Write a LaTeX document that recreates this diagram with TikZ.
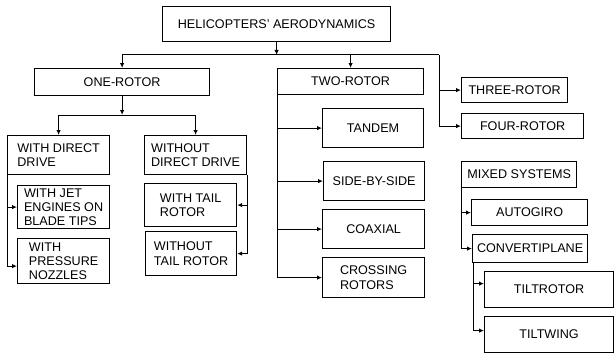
\documentclass[tikz,border=0pt]{standalone}
\usepackage{fontspec}
\setmainfont{Liberation Sans}
\usetikzlibrary{arrows.meta}

\begin{document}
\begin{tikzpicture}[x=1pt,y=-1pt,>={Latex[length=5pt,width=4.5pt]},
  font=\fontsize{12.6}{14.3}\selectfont,
  box/.style={draw,line width=1.2pt,inner sep=0pt,anchor=north west,align=left},
  link/.style={line width=1pt}]
  \useasboundingbox (0,0) rectangle (615,353);

  \node[box,minimum width=228,minimum height=35] (heli) at (162,6) {HELICOPTERS' AERODYNAMICS};
  \node[box,minimum width=175,minimum height=27] (one) at (34,68) {ONE-ROTOR};
  \node[box,minimum width=146,minimum height=26] (two) at (277,68) {TWO-ROTOR};
  \node[box,minimum width=106,minimum height=25] (three) at (461,77) {THREE-ROTOR};
  \node[box,minimum width=122,minimum height=25] (four) at (461,113) {FOUR-ROTOR};

  \node[box,minimum width=102,minimum height=39] (wdd) at (7,135) {WITH DIRECT\\DRIVE};
  \node[box,minimum width=102,minimum height=39] (wodd) at (144,135) {WITHOUT\\DIRECT DRIVE};
  \node[box,minimum width=92,minimum height=43] (jet) at (17,185) {WITH JET\\ENGINES ON\\BLADE TIPS};
  \node[box,minimum width=92,minimum height=45] (press) at (17,238) {WITH\\PRESSURE\\NOZZLES};
  \node[box,minimum width=92,minimum height=43] (wtail) at (144,183) {WITH TAIL\\ROTOR};
  \node[box,minimum width=91,minimum height=44] (wotail) at (145,231) {WITHOUT\\TAIL ROTOR};

  \node[box,minimum width=101,minimum height=39] (tandem) at (322,108) {TANDEM};
  \node[box,minimum width=101,minimum height=39] (side) at (323,161) {SIDE-BY-SIDE};
  \node[box,minimum width=102,minimum height=39] (coax) at (322,209) {COAXIAL};
  \node[box,minimum width=102,minimum height=40] (cross) at (322,257) {CROSSING\\ROTORS};

  \node[box,minimum width=115,minimum height=26] (mixed) at (461,161) {MIXED SYSTEMS};
  \node[box,minimum width=116,minimum height=26] (auto) at (471,199) {AUTOGIRO};
  \node[box,minimum width=115,minimum height=28] (conv) at (472,234) {CONVERTIPLANE};
  \node[box,minimum width=129,minimum height=36] (tiltrotor) at (484,271) {TILTROTOR};
  \node[box,minimum width=129,minimum height=36] (tiltwing) at (484,316) {TILTWING};

  % main branches
  \coordinate (bus) at (439,55);
  \draw[link,->] (heli.south) -- (heli.south |- bus);
  \draw[link] (one.north |- bus) -- (bus);
  \draw[link,->] (one.north |- bus) -- (one.north);
  \draw[link,->] (two.north |- bus) -- (two.north);
  \draw[link,->] (bus) |- (three.west);
  \draw[link,->] (bus) |- (four.west);

  % one-rotor
  \coordinate (onebus) at (0,115);
  \draw[link,->] (one.south) -- (one.south |- onebus);
  \draw[link] (wdd.north |- onebus) -- (wodd.north |- onebus);
  \draw[link,->] (wdd.north |- onebus) -- (wdd.north);
  \draw[link,->] (wodd.north |- onebus) -- (wodd.north);
  \draw[link,->] (wdd.south west) |- (jet.west);
  \draw[link,->] (wdd.south west) |- ([yshift=-5pt]press.west);
  \draw[link,->] (wodd.south east) |- (wtail.east);
  \draw[link,->] (wodd.south east) |- (wotail.east);

  % two-rotor
  \foreach \n in {tandem,side,coax,cross}
    \draw[link,->] (two.south west) |- (\n.west);

  % mixed systems
  \draw[link,->] (mixed.south west) |- (auto.west);
  \draw[link,->] (mixed.south west) |- (conv.west);
  \draw[link,->] ([xshift=1pt]conv.south west) |- ([yshift=6pt]tiltrotor.west);
  \draw[link,->] ([xshift=1pt]conv.south west) |- ([yshift=4pt]tiltwing.west);
\end{tikzpicture}
\end{document}
